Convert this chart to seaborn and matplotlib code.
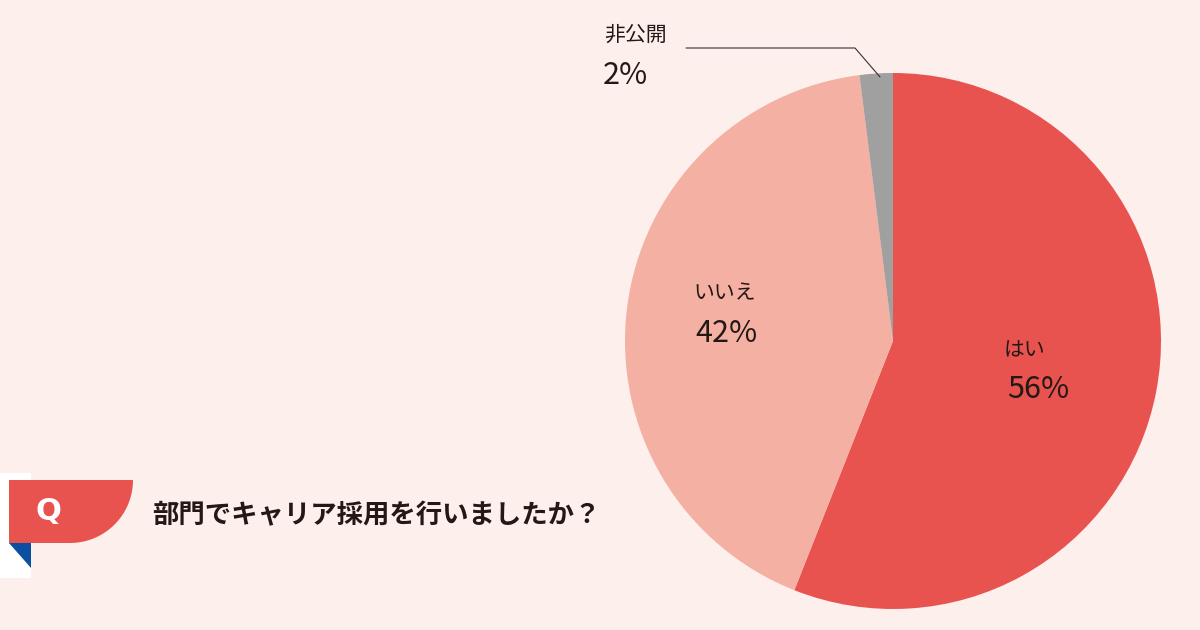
import matplotlib
matplotlib.use("Agg")
import matplotlib.pyplot as plt
import seaborn as sns
from matplotlib.patches import Polygon, Rectangle

sns.set_theme(style="white")
plt.rcParams['font.family'] = ['Noto Sans CJK JP', 'DejaVu Sans']

labels = ["はい", "いいえ", "非公開"]
values = [56, 42, 2]
colors = ["#E8534F", "#F4B0A2", "#A0A0A0"]
title = "部門でキャリア採用を行いましたか？"

bg = "#FDEFEC"
fig = plt.figure(figsize=(12, 6.3), dpi=100)
fig.patch.set_facecolor(bg)

cx, cy, r = 893, 341, 268
ax = fig.add_axes([(cx - r) / 1200, (630 - cy - r) / 630, 2 * r / 1200, 2 * r / 630])
ax.pie(values, colors=colors, startangle=90, counterclock=False,
       wedgeprops=dict(linewidth=0))
ax.set_xlim(-1, 1); ax.set_ylim(-1, 1)
ax.set_aspect("auto")
ax.axis("off")

ov = fig.add_axes([0, 0, 1, 1], facecolor="none")
ov.set_xlim(0, 1200); ov.set_ylim(630, 0); ov.axis("off")

tc = "#231815"
ov.text(1025, 350, labels[0], fontsize=15, ha="center", va="center", color=tc)
ov.text(1038, 390, f"{values[0]}%", fontsize=22, ha="center", va="center", color=tc)
ov.text(725, 293, labels[1], fontsize=15, ha="center", va="center", color=tc)
ov.text(727, 333, f"{values[1]}%", fontsize=22, ha="center", va="center", color=tc)
ov.text(636, 35, labels[2], fontsize=15, ha="center", va="center", color=tc)
ov.text(625, 75, f"{values[2]}%", fontsize=22, ha="center", va="center", color=tc)
ov.plot([686, 855, 880], [48, 48, 77], color="#333333", lw=0.8)

# Q badge
ov.add_patch(Rectangle((0, 473), 31, 105, color="white", lw=0))
import numpy as np
th = np.linspace(0, np.pi / 2, 30)
arc = [(70 + 63 * np.cos(t), 480 + 63 * np.sin(t)) for t in th]
pts = [(9, 480), (133, 480)] + arc[::-1][:-1] + [(70, 543), (9, 543)]
pts = [(9, 480)] + [(70 + 63 * np.cos(t), 480 + 63 * np.sin(t)) for t in th] + [(9, 543)]
ov.add_patch(Polygon(pts, closed=True, color="#E8534F", lw=0))
ov.add_patch(Polygon([(9, 543), (31, 543), (31, 568)], closed=True, color="#0B4EA2", lw=0))
ov.text(48, 512, "Q", fontsize=22, fontweight="bold", color="white", ha="center", va="center",
        family="DejaVu Sans")
ov.text(152, 516, title, fontsize=19, fontweight="bold", color=tc, ha="left", va="center")

fig.savefig("out.png", dpi=100, facecolor=bg)
